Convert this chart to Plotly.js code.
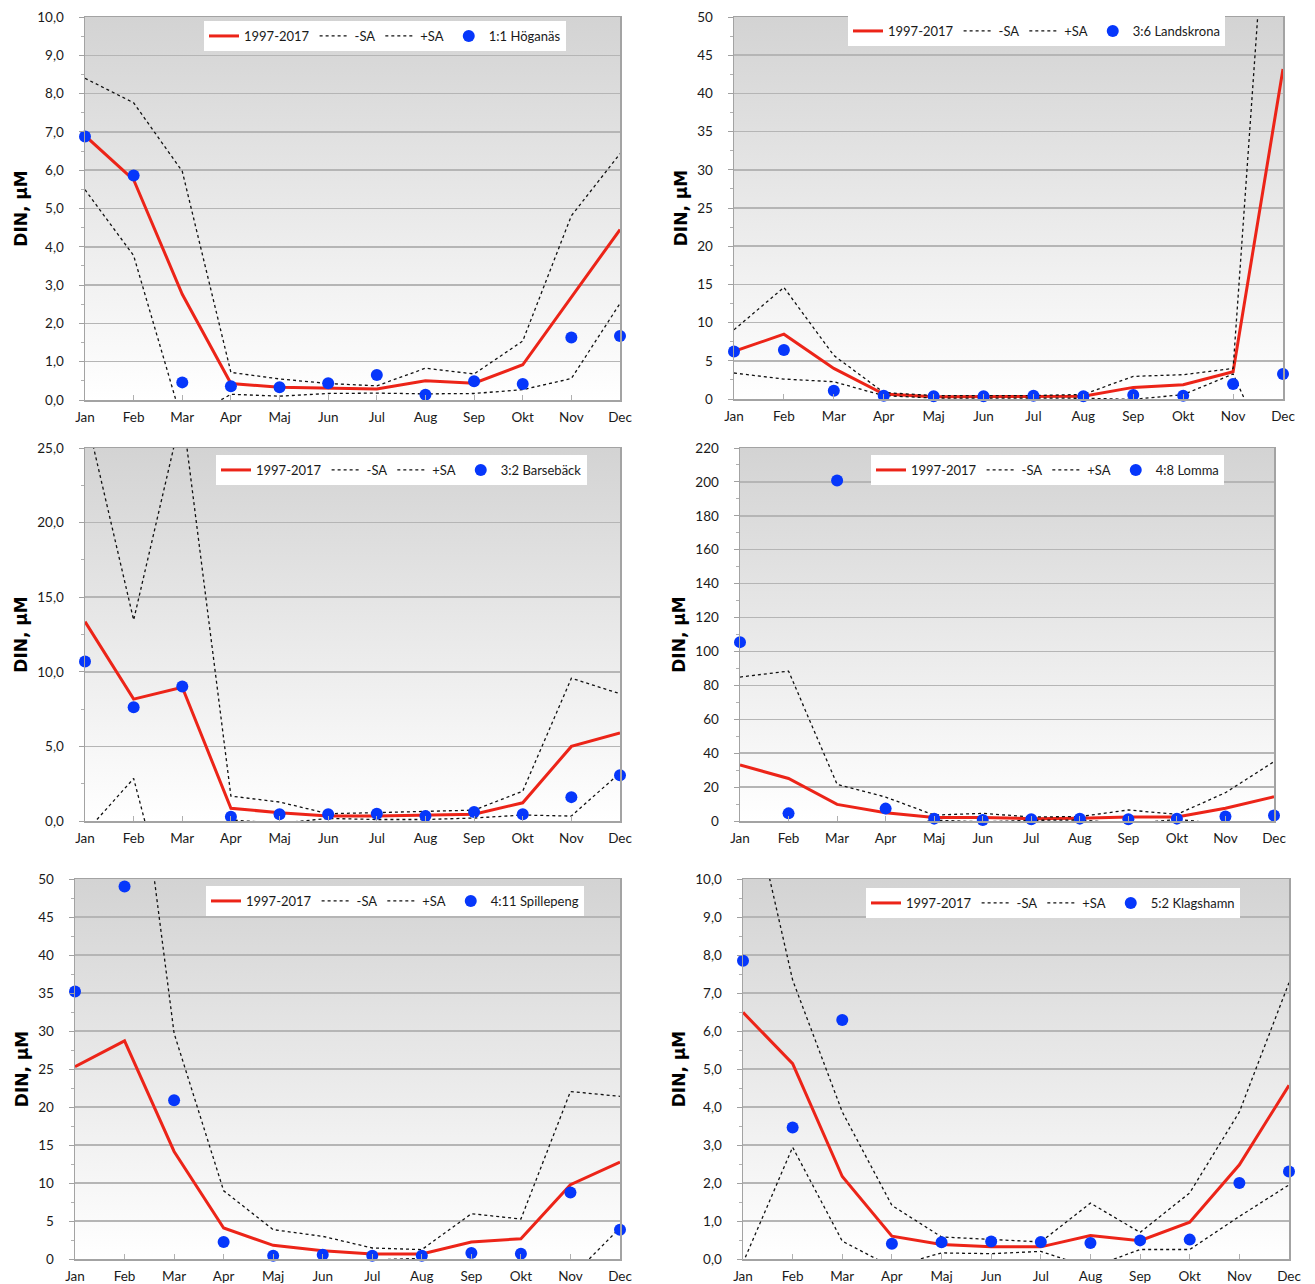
<!DOCTYPE html>
<html>
<head>
<meta charset="utf-8">
<script src="https://cdn.plot.ly/plotly-3.0.1.min.js"></script>
<style>
  html, body { margin: 0; padding: 0; background: #ffffff; }
  #chart { width: 1315px; height: 1284px; }
</style>
</head>
<body>
<div id="chart"></div>
<script>
// ---------- DATA ----------
const months = ['Jan','Feb','Mar','Apr','Maj','Jun','Jul','Aug','Sep','Okt','Nov','Dec'];
const seriesNames = ['1997-2017', '-SA', '+SA'];

const stationNames = ['1:1 Höganäs', '3:6 Landskrona', '3:2 Barsebäck', '4:8 Lomma', '4:11 Spillepeng', '5:2 Klagshamn'];

// 1:1 Höganäs
const hoganasMean  = [6.90, 5.75, 2.76, 0.43, 0.33, 0.31, 0.29, 0.50, 0.44, 0.92, 2.68, 4.45];
const hoganasMinus = [5.49, 3.77, -0.57, 0.15, 0.10, 0.17, 0.18, 0.16, 0.17, 0.27, 0.56, 2.52];
const hoganasPlus  = [8.40, 7.76, 5.97, 0.72, 0.55, 0.43, 0.37, 0.83, 0.68, 1.54, 4.81, 6.43];
const hoganasObs   = [6.88, 5.86, 0.46, 0.36, 0.33, 0.44, 0.65, 0.14, 0.49, 0.42, 1.63, 1.67];

// 3:6 Landskrona
const landskronaMean  = [6.23, 8.49, 4.00, 0.65, 0.30, 0.30, 0.30, 0.35, 1.52, 1.87, 3.57, 43.2];
const landskronaMinus = [3.40, 2.61, 2.26, 0.44, 0.13, 0.13, 0.13, 0.10, -0.05, 0.57, 3.27, -11.0];
const landskronaPlus  = [9.06, 14.6, 5.70, 0.85, 0.45, 0.45, 0.45, 0.60, 2.96, 3.18, 4.00, 97.4];
const landskronaObs   = [6.23, 6.40, 1.09, 0.44, 0.35, 0.35, 0.44, 0.35, 0.52, 0.44, 1.96, 3.27];

// 3:2 Barsebäck
const barsebackMean  = [13.36, 8.17, 8.97, 0.85, 0.56, 0.33, 0.33, 0.38, 0.45, 1.22, 5.00, 5.90];
const barsebackMinus = [-0.80, 2.85, -9.56, 0.07, -0.15, 0.17, 0.10, 0.10, 0.20, 0.40, 0.33, 3.23];
const barsebackPlus  = [27.5, 13.47, 27.5, 1.67, 1.27, 0.49, 0.56, 0.67, 0.73, 2.00, 9.57, 8.53];
const barsebackObs   = [10.69, 7.62, 9.02, 0.29, 0.45, 0.45, 0.49, 0.33, 0.60, 0.45, 1.60, 3.07];

// 4:8 Lomma
const lommaMean  = [33.0, 25.1, 9.8, 4.9, 2.0, 2.0, 1.4, 1.6, 2.4, 2.4, 7.5, 14.3];
const lommaMinus = [-18.9, -38.2, -2.0, -4.3, 0.5, -0.5, 0.4, 0.6, -1.7, 0.9, -1.7, -6.4];
const lommaPlus  = [84.9, 88.4, 21.6, 14.1, 3.5, 4.5, 2.4, 2.6, 6.5, 3.9, 16.7, 35.0];
const lommaObs   = [105.5, 4.5, 200.8, 7.3, 1.4, 0.6, 1.0, 1.4, 1.0, 1.4, 2.6, 3.3];

// 4:11 Spillepeng
const spillepengMean  = [25.3, 28.7, 14.15, 4.08, 1.80, 1.10, 0.66, 0.66, 2.23, 2.67, 9.77, 12.75];
const spillepengMinus = [-7.4, -23.1, -1.4, -0.82, -0.26, -0.78, -0.13, 0.09, -1.50, 0.08, -2.50, 4.10];
const spillepengPlus  = [58.0, 80.5, 29.7, 8.98, 3.86, 2.98, 1.45, 1.23, 5.96, 5.26, 22.04, 21.40];
const spillepengObs   = [35.2, 49.0, 20.9, 2.23, 0.44, 0.57, 0.44, 0.44, 0.79, 0.70, 8.76, 3.86];

// 5:2 Klagshamn
const klagshamnMean  = [6.49, 5.14, 2.17, 0.60, 0.38, 0.32, 0.32, 0.62, 0.48, 0.97, 2.48, 4.57];
const klagshamnMinus = [-0.10, 2.94, 0.47, -0.21, 0.16, 0.14, 0.20, -0.23, 0.25, 0.25, 1.12, 1.95];
const klagshamnPlus  = [13.1, 7.34, 3.87, 1.41, 0.58, 0.51, 0.45, 1.47, 0.70, 1.74, 3.87, 7.27];
const klagshamnObs   = [7.85, 3.46, 6.29, 0.40, 0.44, 0.46, 0.45, 0.42, 0.49, 0.51, 2.00, 2.30];

// y-axis scales per panel
const yMax   = [10, 50, 25, 220, 50, 10];
const yDtick = [1, 5, 5, 20, 5, 1];
const yFmt   = ['.1f', 'd', '.1f', 'd', 'd', '.1f'];

// ---------- LAYOUT (pixel geometry) ----------
const W = 1315, H = 1284;
// [left, right, top, bottom] of each plot area in px
const boxes = [
  [85, 620, 17, 400],
  [734, 1283, 17, 399],
  [85, 620, 448, 821],
  [740, 1274, 448, 821],
  [75, 620, 879, 1259],
  [743, 1289, 879, 1259]
];
// legend top-left positions in px
const legendPos = [[204, 21], [848, 16], [216, 455], [871, 455], [206, 886], [866, 888]];

const panels = [
  [hoganasMean, hoganasMinus, hoganasPlus, hoganasObs],
  [landskronaMean, landskronaMinus, landskronaPlus, landskronaObs],
  [barsebackMean, barsebackMinus, barsebackPlus, barsebackObs],
  [lommaMean, lommaMinus, lommaPlus, lommaObs],
  [spillepengMean, spillepengMinus, spillepengPlus, spillepengObs],
  [klagshamnMean, klagshamnMinus, klagshamnPlus, klagshamnObs]
];

const RED = '#ec2418';
const BLUE = '#0637fb';
const FONT = 'Lato, "Liberation Sans", Arial, sans-serif';
const GRID = '#b5b5b5';
const FRAME = '#a3a3a3';

const gradSvg = '<svg xmlns="http://www.w3.org/2000/svg" width="10" height="100" viewBox="0 0 10 100" preserveAspectRatio="none">' +
  '<defs><linearGradient id="g" x1="0" y1="0" x2="0" y2="1">' +
  '<stop offset="0" stop-color="#d3d3d3"/><stop offset="0.5" stop-color="#e9e9e9"/><stop offset="1" stop-color="#ffffff"/>' +
  '</linearGradient></defs><rect x="0" y="0" width="10" height="100" fill="url(#g)"/></svg>';
const gradSrc = 'data:image/svg+xml;charset=utf-8,' + encodeURIComponent(gradSvg);

const data = [];
const layout = {
  width: W, height: H,
  margin: {l: 0, r: 0, t: 0, b: 0, pad: 0},
  paper_bgcolor: '#ffffff',
  plot_bgcolor: 'rgba(0,0,0,0)',
  separators: ', ',
  font: {family: FONT, size: 13, color: '#1a1a1a'},
  showlegend: true,
  images: []
};

panels.forEach((p, i) => {
  const n = i === 0 ? '' : String(i + 1);
  const xa = 'x' + n, ya = 'y' + n;
  const lg = 'legend' + n;
  const b = boxes[i];

  const lineBase = {x: months, xaxis: xa, yaxis: ya, legend: lg, mode: 'lines', hoverinfo: 'skip'};
  data.push(Object.assign({}, lineBase, {y: p[0], name: seriesNames[0], line: {color: RED, width: 3}}));
  data.push(Object.assign({}, lineBase, {y: p[1], name: seriesNames[1], line: {color: '#111111', width: 1.3, dash: '3px,3px'}}));
  data.push(Object.assign({}, lineBase, {y: p[2], name: seriesNames[2], line: {color: '#111111', width: 1.3, dash: '3px,3px'}}));
  data.push({x: months, y: p[3], xaxis: xa, yaxis: ya, legend: lg, mode: 'markers', name: stationNames[i],
             cliponaxis: false, hoverinfo: 'skip',
             marker: {color: BLUE, size: 12, line: {width: 0}}});

  layout['xaxis' + n] = {
    domain: [b[0] / W, b[1] / W],
    anchor: ya,
    type: 'category',
    range: [0, months.length - 1],
    showgrid: false,
    zeroline: false,
    showline: true, mirror: true, linecolor: FRAME, linewidth: 1.5,
    ticks: 'inside', ticklen: 5, tickwidth: 1, tickcolor: '#b0b0b0',
    ticklabelstandoff: 4,
    tickfont: {family: FONT, size: 13.5, color: '#1a1a1a'},
    fixedrange: true
  };
  layout['yaxis' + n] = {
    domain: [1 - b[3] / H, 1 - b[2] / H],
    anchor: xa,
    range: [0, yMax[i]],
    dtick: yDtick[i], tick0: 0,
    tickformat: yFmt[i],
    showgrid: true, gridcolor: GRID, gridwidth: 1.5,
    zeroline: false,
    showline: true, mirror: true, linecolor: FRAME, linewidth: 1.5,
    ticks: 'outside', ticklen: 5, tickwidth: 1, tickcolor: '#a0a0a0',
    ticklabelstandoff: 12,
    minor: {dtick: yDtick[i] / 2, ticks: 'outside', ticklen: 3, tickcolor: '#b0b0b0', showgrid: false},
    tickfont: {family: FONT, size: 13.5, color: '#1a1a1a'},
    title: {text: 'DIN, µM', standoff: 5,
            font: {family: '"DejaVu Sans", Verdana, sans-serif', size: 17, weight: 'bold', color: '#000000'}},
    fixedrange: true
  };
  layout[lg] = {
    orientation: 'h',
    xref: 'paper', yref: 'paper',
    x: legendPos[i][0] / W, y: 1 - legendPos[i][1] / H,
    xanchor: 'left', yanchor: 'top',
    bgcolor: '#ffffff', borderwidth: 0,
    font: {family: FONT, size: 13, color: '#1a1a1a'},
    itemwidth: 30,
    traceorder: 'normal'
  };
  layout.images.push({
    source: gradSrc,
    xref: xa + ' domain', yref: ya + ' domain',
    x: 0, y: 1, sizex: 1, sizey: 1,
    xanchor: 'left', yanchor: 'top',
    sizing: 'stretch', layer: 'below', opacity: 1
  });
});

Plotly.newPlot('chart', data, layout, {staticPlot: true, displayModeBar: false});
</script>
</body>
</html>
